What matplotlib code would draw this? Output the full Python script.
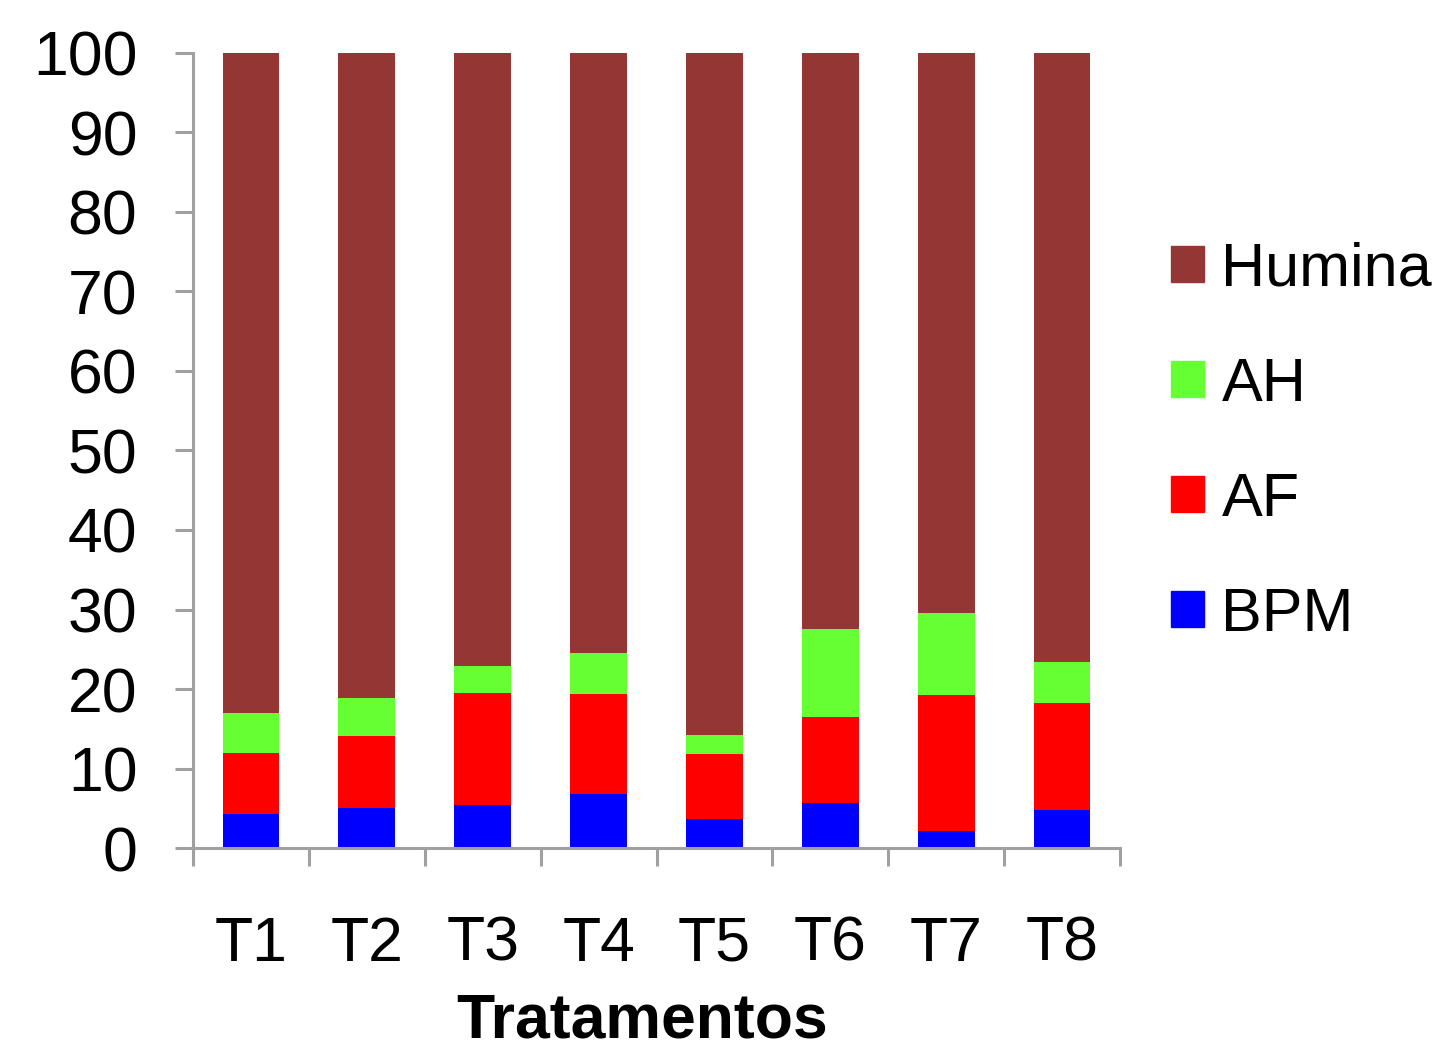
import numpy as np
import matplotlib.pyplot as plt
from matplotlib.patches import Patch

plt.rcParams['font.family'] = ['Liberation Sans', 'DejaVu Sans']

tratamentos = ['T1', 'T2', 'T3', 'T4', 'T5', 'T6', 'T7', 'T8']
bpm    = [4.3, 5.0, 5.35, 6.8, 3.7, 5.7, 2.1, 4.8]
af     = [7.6, 9.1, 14.15, 12.6, 8.1, 10.8, 17.1, 13.4]
ah     = [5.1, 4.8, 3.4, 5.1, 2.4, 11.0, 10.4, 5.2]
humina = [83.0, 81.1, 77.1, 75.5, 85.8, 72.5, 70.4, 76.6]

series = [('BPM', bpm, '#0000FF'),
          ('AF', af, '#FF0000'),
          ('AH', ah, '#66FF33'),
          ('Humina', humina, '#943634')]

fig = plt.figure(figsize=(14.47, 10.49), dpi=100)
ax = fig.add_axes([0.1334, 0.1916, 0.6406, 0.7579])

x = np.arange(len(tratamentos))
base = np.zeros(len(tratamentos))
for nome, vals, cor in series:
    ax.bar(x, vals, width=0.49, bottom=base, color=cor, label=nome)
    base += np.array(vals)

ax.set_xlim(-0.5, len(tratamentos) - 0.5)
ax.set_ylim(0, 100)
ax.set_yticks(range(0, 101, 10))

cinza = '#A0A0A0'
for s in ['top', 'right']:
    ax.spines[s].set_visible(False)
for s in ['left', 'bottom']:
    ax.spines[s].set_color(cinza)
    ax.spines[s].set_linewidth(2.2)

ax.tick_params(axis='y', direction='out', length=13, width=2.2, color=cinza,
               labelsize=45, pad=27)
ax.set_xticks(x)
ax.set_xticklabels(tratamentos)
ax.set_xticks(np.arange(-0.5, len(tratamentos)), minor=True)
ax.tick_params(axis='x', which='major', length=0, labelsize=45, pad=48)
ax.tick_params(axis='x', which='minor', direction='out', length=13, width=2.2,
               color=cinza)

ax.set_xlabel('Tratamentos', fontsize=45, fontweight='bold')
ax.xaxis.set_label_coords(0.484, -0.181, transform=ax.transAxes)
ax.xaxis.label.set_va('top')

handles = [Patch(color=c, label=n) for n, _, c in reversed(series)]
fig.legend(handles=handles, loc='center left', bbox_to_anchor=(0.7926, 0.578),
           frameon=False, fontsize=44, handlelength=0.54, handleheight=0.54,
           handletextpad=0.28, labelspacing=0.95, borderaxespad=0)

fig.savefig('out.png', dpi=100)
